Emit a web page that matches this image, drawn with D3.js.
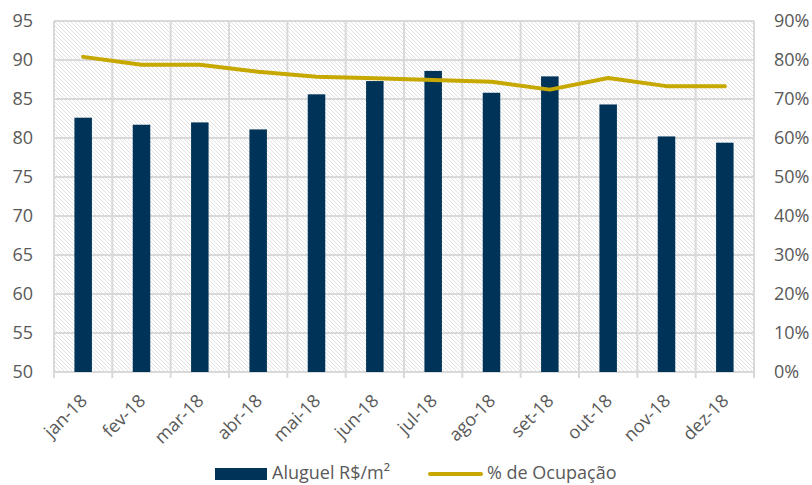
<!DOCTYPE html>
<html>
<head>
<meta charset="utf-8">
<script src="https://cdn.jsdelivr.net/npm/d3@7"></script>
<style>
  body { margin: 0; background: #fff; }
  text { font-family: "Open Sans", sans-serif; fill: #595959; }
</style>
</head>
<body>
<div id="chart"></div>
<script>
// Data
const months = ["jan-18", "fev-18", "mar-18", "abr-18", "mai-18", "jun-18",
                "jul-18", "ago-18", "set-18", "out-18", "nov-18", "dez-18"];
const aluguel = [82.6, 81.7, 82.0, 81.1, 85.6, 87.3, 88.6, 85.8, 87.9, 84.3, 80.2, 79.4];
const ocupacao = [0.808, 0.788, 0.788, 0.770, 0.757, 0.753, 0.749, 0.744, 0.724, 0.754, 0.733, 0.733];
const leftTicks = [50, 55, 60, 65, 70, 75, 80, 85, 90, 95];
const rightTicks = [0, 0.1, 0.2, 0.3, 0.4, 0.5, 0.6, 0.7, 0.8, 0.9];

const width = 812, height = 485;
const margin = { top: 21, right: 58, bottom: 113, left: 54 };
const innerW = width - margin.left - margin.right;
const innerH = height - margin.top - margin.bottom;

const svg = d3.select("#chart")
    .append("svg")
    .attr("width", width)
    .attr("height", height);

// Hatch pattern for the plot background
const defs = svg.append("defs");
const pat = defs.append("pattern")
    .attr("id", "hatch")
    .attr("patternUnits", "userSpaceOnUse")
    .attr("width", 4)
    .attr("height", 4);
pat.append("rect").attr("width", 4).attr("height", 4).attr("fill", "#fff");
pat.append("path")
    .attr("d", "M-1,-1 L5,5 M-1,3 L1,5 M3,-1 L5,1")
    .attr("stroke", "#e2e2e2")
    .attr("stroke-width", 1);

const g = svg.append("g")
    .attr("transform", `translate(${margin.left},${margin.top})`);

const x = d3.scaleBand()
    .domain(months)
    .range([0, innerW])
    .paddingInner(0.7)
    .paddingOuter(0.35);

const xEdge = d3.scaleLinear().domain([0, months.length]).range([0, innerW]);

const yL = d3.scaleLinear().domain([50, 95]).range([innerH, 0]);
const yR = d3.scaleLinear().domain([0, 0.9]).range([innerH, 0]);

// Background
g.append("rect")
    .attr("width", innerW)
    .attr("height", innerH)
    .attr("fill", "url(#hatch)");

// Grid lines
const gridColor = "#d9d9d9";
g.append("g")
    .selectAll("line")
    .data(leftTicks)
    .join("line")
    .attr("x1", 0).attr("x2", innerW)
    .attr("y1", d => yL(d)).attr("y2", d => yL(d))
    .attr("stroke", gridColor)
    .attr("stroke-width", 2);

g.append("g")
    .selectAll("line")
    .data(d3.range(months.length + 1))
    .join("line")
    .attr("x1", d => xEdge(d)).attr("x2", d => xEdge(d))
    .attr("y1", 0).attr("y2", innerH + 6)
    .attr("stroke", gridColor)
    .attr("stroke-width", 2);

// Bars
g.append("g")
    .selectAll("rect")
    .data(aluguel)
    .join("rect")
    .attr("x", (d, i) => x(months[i]))
    .attr("width", x.bandwidth())
    .attr("y", d => yL(d))
    .attr("height", d => innerH - yL(d))
    .attr("fill", "#003358");

// Line
const line = d3.line()
    .x((d, i) => x(months[i]) + x.bandwidth() / 2)
    .y(d => yR(d));

g.append("path")
    .datum(ocupacao)
    .attr("d", line)
    .attr("fill", "none")
    .attr("stroke", "#c6a800")
    .attr("stroke-width", 4)
    .attr("stroke-linejoin", "round")
    .attr("stroke-linecap", "round");

// Left axis labels
g.append("g")
    .selectAll("text")
    .data(leftTicks)
    .join("text")
    .attr("x", -21)
    .attr("y", d => yL(d))
    .attr("dy", "0.35em")
    .attr("text-anchor", "end")
    .attr("font-size", 18)
    .text(d => d);

// Right axis labels
const fmtPct = d3.format(".0%");
g.append("g")
    .selectAll("text")
    .data(rightTicks)
    .join("text")
    .attr("x", innerW + 20)
    .attr("y", d => yR(d))
    .attr("dy", "0.35em")
    .attr("text-anchor", "start")
    .attr("font-size", 18)
    .text(d => fmtPct(d));

// X labels (rotated)
g.append("g")
    .selectAll("text")
    .data(months)
    .join("text")
    .attr("transform", d => `translate(${x(d) + x.bandwidth() / 2 + 5},${innerH + 30}) rotate(-45)`)
    .attr("text-anchor", "end")
    .attr("font-size", 18)
    .text(d => d);

// Legend
const legend = svg.append("g");
legend.append("rect")
    .attr("x", 215).attr("y", 468)
    .attr("width", 52).attr("height", 12)
    .attr("fill", "#003358");
legend.append("text")
    .attr("x", 272).attr("y", 473)
    .attr("dy", "0.35em")
    .attr("font-size", 18)
    .text("Aluguel R$/m²");
legend.append("line")
    .attr("x1", 430).attr("x2", 481)
    .attr("y1", 474).attr("y2", 474)
    .attr("stroke", "#c6a800")
    .attr("stroke-width", 4)
    .attr("stroke-linecap", "round");
legend.append("text")
    .attr("x", 487).attr("y", 473)
    .attr("dy", "0.35em")
    .attr("font-size", 18)
    .text("% de Ocupação");
</script>
</body>
</html>
